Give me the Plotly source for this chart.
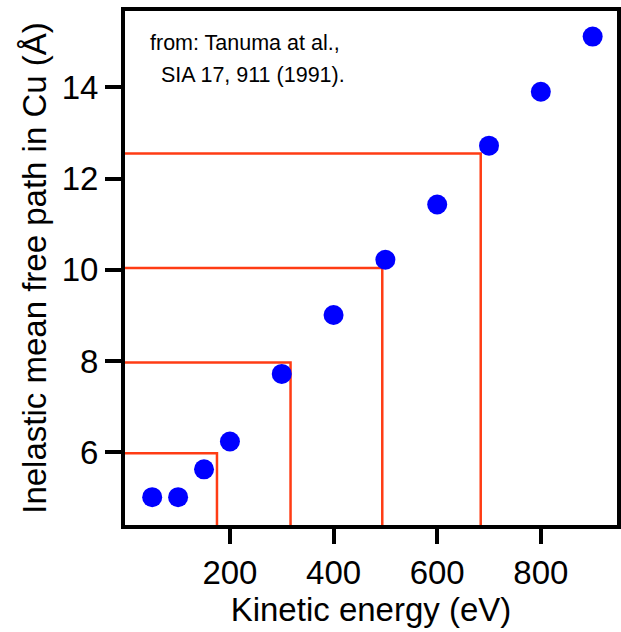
import plotly.graph_objects as go

# Data
energy = [50, 100, 150, 200, 300, 400, 500, 600, 700, 800, 900]
imfp = [5.02, 5.02, 5.63, 6.24, 7.72, 9.01, 10.22, 11.43, 12.72, 13.9, 15.11]

guide_imfp = [5.98, 7.97, 10.04, 12.55]
guide_energy = [175, 317, 494, 684]

x_range = [-2.5, 947]
y_range = [4.41, 15.67]

x_ticks = [200, 400, 600, 800]
y_ticks = [6, 8, 10, 12, 14]

font_family = "Liberation Sans, Arial, sans-serif"

fig = go.Figure()

for xv, yv in zip(guide_energy, guide_imfp):
    fig.add_trace(go.Scatter(
        x=[x_range[0], xv, xv], y=[yv, yv, y_range[0]],
        mode="lines", line=dict(color="#ff3c14", width=2.5),
        showlegend=False, hoverinfo="skip", cliponaxis=True,
    ))

fig.add_trace(go.Scatter(
    x=energy, y=imfp, mode="markers",
    marker=dict(color="#0000ff", size=20, line=dict(width=0)),
    showlegend=False,
))

fig.add_annotation(
    text="from: Tanuma at al.,", xref="paper", yref="paper",
    x=0.046, y=0.937, xanchor="left", yanchor="middle", showarrow=False,
    font=dict(family=font_family, size=21.5, color="black"),
)
fig.add_annotation(
    text="SIA 17, 911 (1991).", xref="paper", yref="paper",
    x=0.069, y=0.875, xanchor="left", yanchor="middle", showarrow=False,
    font=dict(family=font_family, size=21.5, color="black"),
)

fig.update_layout(
    width=621, height=632,
    margin=dict(l=125, r=4, t=11, b=107, autoexpand=False),
    paper_bgcolor="white", plot_bgcolor="white",
    font=dict(family=font_family, size=33, color="black"),
    xaxis=dict(
        range=x_range, tickvals=x_ticks, ticks="outside", ticklen=15, tickwidth=4,
        tickcolor="black", showline=True, linewidth=4, linecolor="black", mirror=True,
        showgrid=False, zeroline=False, automargin=False,
        title=dict(text="Kinetic energy (eV)", standoff=2, font=dict(size=33)),
        tickfont=dict(size=33),
    ),
    yaxis=dict(
        range=y_range, tickvals=y_ticks, ticks="outside", ticklen=16, tickwidth=4,
        tickcolor="black", showline=True, linewidth=4, linecolor="black", mirror=True,
        showgrid=False, zeroline=False, automargin=False,
        title=dict(text="Inelastic mean free path in Cu (Å)", standoff=6, font=dict(size=33)),
        tickfont=dict(size=33),
    ),
)

fig.write_html("out.html")
